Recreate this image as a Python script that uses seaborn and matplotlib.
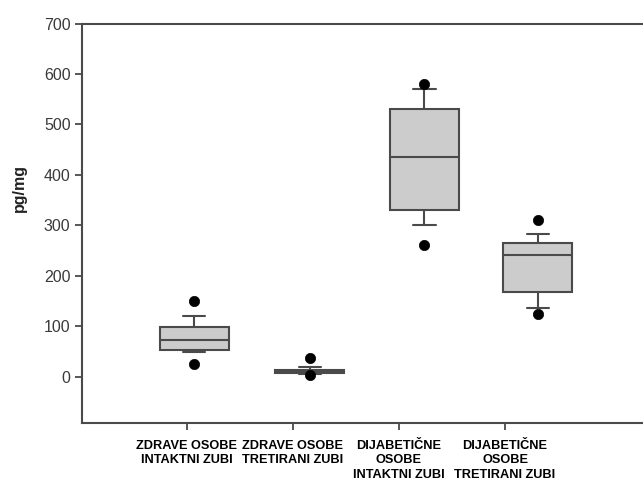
import matplotlib
matplotlib.use("Agg")
import matplotlib.pyplot as plt
import seaborn as sns
import pandas as pd

# Group labels and box statistics (pg/mg)
groups = [
    "ZDRAVE OSOBE\nINTAKTNI ZUBI",
    "ZDRAVE OSOBE\nTRETIRANI ZUBI",
    "DIJABETIČNE\nOSOBE\nINTAKTNI ZUBI",
    "DIJABETIČNE\nOSOBE\nTRETIRANI ZUBI",
]
p10 = [50, 5, 300, 137]
q1 = [53, 8, 331, 168]
median = [73, 11, 436, 242]
q3 = [99, 14, 530, 266]
p90 = [121, 19, 570, 283]
low_points = [25, 3, 261, 124]
high_points = [150, 38, 580, 310]

sns.set_style("ticks")
plt.rcParams["font.family"] = ["Liberation Sans", "DejaVu Sans"]

line_col = "#4a4a4a"
fig = plt.figure(figsize=(6.43, 4.80), dpi=100)
ax = fig.add_axes([0.127, 0.119, 0.873, 0.832])

tick_pos = [1, 2, 3, 4]
box_pos = [1.07, 2.16, 3.24, 4.31]

stats = []
for i in range(len(groups)):
    stats.append(dict(whislo=p10[i], q1=q1[i], med=median[i], q3=q3[i],
                      whishi=p90[i], fliers=[]))

ax.bxp(stats, positions=box_pos, widths=0.65, capwidths=0.21,
       patch_artist=True, showfliers=False,
       boxprops=dict(facecolor="#cccccc", edgecolor=line_col, linewidth=1.5),
       medianprops=dict(color=line_col, linewidth=1.5),
       whiskerprops=dict(color=line_col, linewidth=1.5),
       capprops=dict(color=line_col, linewidth=1.5))

pts = pd.DataFrame({
    "x": box_pos * 2,
    "y": low_points + high_points,
})
sns.scatterplot(data=pts, x="x", y="y", ax=ax, color="black", s=55,
                edgecolor="black", linewidth=0.5, zorder=5, legend=False)

ax.set_xlim(0.01, 5.30)
ax.set_ylim(-91, 700)
ax.set_yticks(range(0, 701, 100))
ax.set_xticks(tick_pos)
ax.set_xticklabels(groups, fontsize=9.2, fontweight="bold", color="black",
                   linespacing=1.3)
ax.tick_params(axis="y", labelsize=11.5, labelcolor="#3a3a3a", color=line_col,
               length=5, width=1.3, pad=3)
ax.tick_params(axis="x", color=line_col, length=5, width=1.3, pad=7)

for side in ["left", "top", "bottom"]:
    ax.spines[side].set_color(line_col)
    ax.spines[side].set_linewidth(1.5)
ax.spines["right"].set_visible(False)

ax.set_xlabel("")
ax.set_ylabel("pg/mg", fontsize=11.5, fontweight="bold", color="#222222")
ax.yaxis.set_label_coords(-0.0975, 0.588)

fig.savefig("out.png", dpi=100)
